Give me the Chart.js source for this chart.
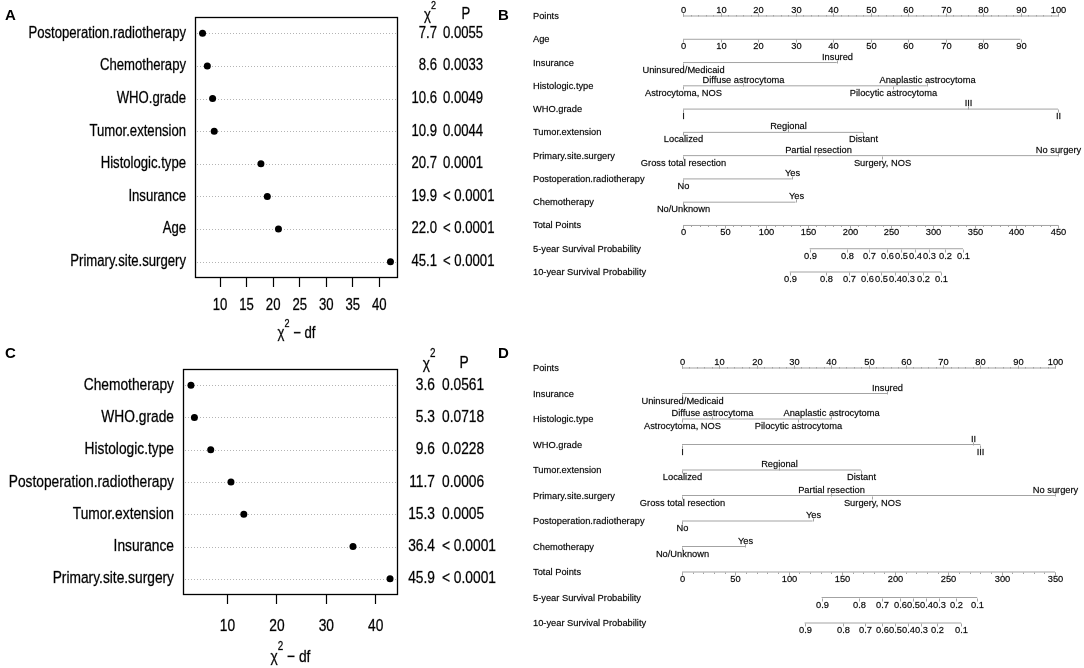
<!DOCTYPE html>
<html><head><meta charset="utf-8">
<script src="https://cdn.jsdelivr.net/npm/chart.js@4"></script>
<style>
html,body{margin:0;padding:0;background:#fff;}
#wrap{position:relative;width:1084px;height:668px;overflow:hidden;background:#fff;}
.pan{position:absolute;}
.lab{position:absolute;font:bold 15px "Liberation Sans",Arial,sans-serif;color:#000;line-height:15px;}
</style></head><body>
<div id="wrap">
  <div class="pan" style="left:0;top:0;width:520px;height:345px"><canvas id="cA"></canvas></div>
  <div class="pan" style="left:0;top:330px;width:520px;height:338px"><canvas id="cC"></canvas></div>
  <div class="pan" style="left:500px;top:0;width:584px;height:300px"><canvas id="cB"></canvas></div>
  <div class="pan" style="left:500px;top:330px;width:584px;height:338px"><canvas id="cD"></canvas></div>
  <div class="lab" style="left:5px;top:7px">A</div>
  <div class="lab" style="left:498px;top:7px">B</div>
  <div class="lab" style="left:5px;top:345px">C</div>
  <div class="lab" style="left:498px;top:345px">D</div>
</div>
<script>
// ---------------- Panel A data ----------------
const varsA = ['Postoperation.radiotherapy','Chemotherapy','WHO.grade','Tumor.extension','Histologic.type','Insurance','Age','Primary.site.surgery'];
const chiDfA = [6.7, 7.6, 8.6, 8.9, 17.7, 18.9, 21.0, 42.1];
const chiA = ['7.7','8.6','10.6','10.9','20.7','19.9','22.0','45.1'];
const pA = ['0.0055','0.0033','0.0049','0.0044','0.0001','< 0.0001','< 0.0001','< 0.0001'];
const xTicksA = [10, 15, 20, 25, 30, 35, 40];

// ---------------- Panel C data ----------------
const varsC = ['Chemotherapy','WHO.grade','Histologic.type','Postoperation.radiotherapy','Tumor.extension','Insurance','Primary.site.surgery'];
const chiDfC = [2.6, 3.3, 6.6, 10.7, 13.3, 35.4, 42.9];
const chiC = ['3.6','5.3','9.6','11.7','15.3','36.4','45.9'];
const pC = ['0.0561','0.0718','0.0228','0.0006','0.0005','< 0.0001','< 0.0001'];
const xTicksC = [10, 20, 30, 40];

// ---------------- Panel B nomogram data ----------------
const ptsTicks = [0,10,20,30,40,50,60,70,80,90,100];
const ageLabB = ['0','10','20','30','40','50','60','70','80','90'];
const agePtsB = [0,10,20,30,40,50,60,70,80,90];
const insLv = ['Uninsured/Medicaid','Insured'];
const insPtsB = [0, 41];
const histLv = ['Astrocytoma, NOS','Diffuse astrocytoma','Pilocytic astrocytoma','Anaplastic astrocytoma'];
const histPtsB = [0, 16, 56, 65];
const whoLvB = ['I','III','II'];
const whoPtsB = [0, 76, 100];
const tumLv = ['Localized','Regional','Distant'];
const tumPtsB = [0, 28, 48];
const surgLv = ['Gross total resection','Partial resection','Surgery, NOS','No surgery'];
const surgPtsB = [0, 36, 53, 100];
const radLv = ['No','Yes'];
const radPtsB = [0, 29];
const chemoLv = ['No/Unknown','Yes'];
const chemoPtsB = [0, 30];
const totTicksB = [0,50,100,150,200,250,300,350,400,450];
const survLv = ['0.9','0.8','0.7','0.6','0.5','0.4','0.3','0.2','0.1'];
const surv5PtsB = [152,197,223,245,261,278,295,314,336];
const surv10PtsB = [128,172,199,221,238,254,270,288,310];

// ---------------- Panel D nomogram data ----------------
const insPtsD = [0, 55];
const histPtsD = [0, 8, 31, 40];
const whoLvD = ['I','II','III'];
const whoPtsD = [0, 78, 80];
const tumPtsD = [0, 26, 48];
const surgPtsD = [0, 40, 51, 100];
const radPtsD = [0, 35];
const chemoPtsD = [0, 17];
const totTicksD = [0,50,100,150,200,250,300,350];
const surv5PtsD = [131,166.5,188,204.5,217,229,241,257,277];
const surv10PtsD = [115,151,172,188,200,212,224,239,262];

const FS = '"Liberation Sans",Arial,sans-serif';
const SX = 0.82;   // horizontal condensing of the R dot-chart text

function ntext(ctx, txt, x, y, size, align) {
  ctx.save();
  ctx.translate(x, y); ctx.scale(SX, 1);
  ctx.font = size + 'px ' + FS; ctx.textAlign = align; ctx.textBaseline = 'middle';
  ctx.fillText(txt, 0, 0);
  ctx.strokeStyle = 'rgba(0,0,0,0.6)'; ctx.lineWidth = 0.45;
  ctx.strokeText(txt, 0, 0);
  ctx.restore();
}
function nwidth(ctx, txt, size) {
  ctx.save(); ctx.font = size + 'px ' + FS; const w = ctx.measureText(txt).width * SX; ctx.restore(); return w;
}
function chiText(ctx, x, y, size, suffix) {
  const s2 = Math.round(size * 0.7);
  const wc = nwidth(ctx, '\u03C7', size), w2 = nwidth(ctx, '2', s2);
  const ws = suffix ? nwidth(ctx, suffix, size) : 0;
  const x0 = x - (wc + w2 + ws) / 2;
  ntext(ctx, '\u03C7', x0, y, size, 'left');
  ntext(ctx, '2', x0 + wc, y - size * 0.62, s2, 'left');
  if (suffix) ntext(ctx, suffix, x0 + wc + w2, y, size, 'left');
}

function dotChart(id, vars, vals, chis, ps, ticks, range, g) {
  const fs = g.fs;
  const plug = {
    id: 'dot' + id,
    beforeDatasetsDraw(chart) {
      const ctx = chart.ctx, a = chart.chartArea, ys = chart.scales.y;
      ctx.save();
      ctx.strokeStyle = '#b4b4b4'; ctx.lineWidth = 1; ctx.setLineDash([1, 2]);
      vars.forEach((v, i) => {
        const y = Math.round(ys.getPixelForValue(i)) + 0.5;
        ctx.beginPath(); ctx.moveTo(a.left + 2, y); ctx.lineTo(a.right - 2, y); ctx.stroke();
      });
      ctx.restore();
    },
    afterDraw(chart) {
      const ctx = chart.ctx, a = chart.chartArea, ys = chart.scales.y, xs = chart.scales.x;
      ctx.save();
      ctx.strokeStyle = '#000'; ctx.lineWidth = 1.3;
      ctx.strokeRect(a.left + 0.5, a.top + 0.5, a.right - a.left - 1, a.bottom - a.top - 1);
      ctx.fillStyle = '#000';
      vars.forEach((v, i) => {
        const y = ys.getPixelForValue(i);
        ntext(ctx, v, a.left - g.yPad, y, fs, 'right');
        ntext(ctx, chis[i], g.chiRight, y, fs, 'right');
        ntext(ctx, ps[i], g.pLeft, y, fs, 'left');
      });
      ticks.forEach(t => ntext(ctx, String(t), xs.getPixelForValue(t), g.tickY, fs, 'center'));
      chiText(ctx, g.chiHeadX, g.headY, fs, '');
      ntext(ctx, 'P', g.pHeadX, g.headY - 1, fs, 'center');
      chiText(ctx, (a.left + a.right) / 2, g.titleY, fs, ' \u2212 df');
      ctx.restore();
    }
  };
  new Chart(document.getElementById(id), {
    type: 'scatter',
    data: { labels: vars, datasets: [{
      data: vars.map((v, i) => ({ x: vals[i], y: v })),
      backgroundColor: '#000', borderColor: '#000', borderWidth: 0,
      pointRadius: 3.5, pointHoverRadius: 3.5
    }]},
    options: {
      responsive: true, maintainAspectRatio: false, animation: false, events: [],
      layout: { padding: g.pad },
      plugins: { legend: { display: false }, tooltip: { enabled: false } },
      scales: {
        y: { type: 'category', labels: vars, offset: true,
             grid: { display: false }, border: { display: false },
             ticks: { display: false },
             afterFit(s) { s.width = g.yW; } },
        x: { type: 'linear', min: range[0], max: range[1],
             grid: { display: true, drawOnChartArea: false, drawTicks: true, tickLength: 9, tickColor: '#000', tickWidth: 1.2 },
             border: { display: false },
             afterBuildTicks(s) { s.ticks = ticks.map(v => ({ value: v })); },
             ticks: { display: false },
             afterFit(s) { s.height = g.xH; } }
      }
    },
    plugins: [plug]
  });
}

dotChart('cA', varsA, chiDfA, chiA, pA, xTicksA, [5.28, 43.52],
  { fs: 16, pad: { left: 0, top: 17, right: 122, bottom: 0 }, yW: 195, yPad: 9, xH: 67,
    tickY: 306, chiRight: 437, pLeft: 443, chiHeadX: 430, pHeadX: 466, headY: 16, titleY: 334 });
dotChart('cC', varsC, chiDfC, chiC, pC, xTicksC, [0.99, 44.51],
  { fs: 16.8, pad: { left: 0, top: 39, right: 122, bottom: 0 }, yW: 183, yPad: 9, xH: 73,
    tickY: 296, chiRight: 435, pLeft: 442, chiHeadX: 429, pHeadX: 464, headY: 34, titleY: 327 });

function nomo(id, rows, totMax, g) {
  const datasets = rows.map((r, i) => ({
    data: [{ x: Math.min(...r.pts), y: i }, { x: Math.max(...r.pts), y: i }],
    xAxisID: r.tot ? 'xt' : 'x',
    showLine: true, borderColor: '#a3a3a3', borderWidth: 1, pointRadius: 0, clip: false
  }));
  const plug = {
    id: 'nomo' + id,
    afterDatasetsDraw(chart) {
      const ctx = chart.ctx, ys = chart.scales.y;
      ctx.save();
      ctx.font = '9.3px ' + FS; ctx.fillStyle = '#000';
      ctx.lineWidth = 1;
      const txt = (s, x, y) => {
        ctx.fillText(s, x, y);
        ctx.save(); ctx.strokeStyle = 'rgba(0,0,0,0.55)'; ctx.lineWidth = 0.3; ctx.strokeText(s, x, y); ctx.restore();
      };
      rows.forEach((r, i) => {
        const y = Math.round(ys.getPixelForValue(i)) + 0.5;
        const xs = chart.scales[r.tot ? 'xt' : 'x'];
        ctx.strokeStyle = '#a3a3a3';
        ctx.textAlign = 'left'; ctx.textBaseline = 'middle';
        txt(r.name, g.labelX, y);
        if (r.minor) {
          const lo = Math.min(...r.pts), hi = Math.max(...r.pts);
          for (let v = lo; v <= hi + 1e-9; v += r.minor) {
            const x = Math.round(xs.getPixelForValue(v)) + 0.5;
            const d = r.side === 'above' ? -1 : 1;
            ctx.beginPath(); ctx.moveTo(x, y); ctx.lineTo(x, y + d * 1.5); ctx.stroke();
          }
        }
        r.labels.forEach((lab, j) => {
          const side = r.side || (j % 2 === 0 ? 'below' : 'above');
          const d = side === 'above' ? -1 : 1;
          const x = Math.round(xs.getPixelForValue(r.pts[j])) + 0.5;
          ctx.beginPath(); ctx.moveTo(x, y); ctx.lineTo(x, y + d * 3); ctx.stroke();
          ctx.textAlign = 'center';
          txt(lab, x, y + (d < 0 ? -6 : 7));
        });
      });
      ctx.restore();
    }
  };
  new Chart(document.getElementById(id), {
    type: 'scatter',
    data: { datasets },
    options: {
      responsive: true, maintainAspectRatio: false, animation: false, events: [],
      layout: { padding: g.pad },
      plugins: { legend: { display: false }, tooltip: { enabled: false } },
      scales: {
        x: { type: 'linear', min: 0, max: 100, display: false },
        xt: { type: 'linear', axis: 'x', min: 0, max: totMax, display: false },
        y: { type: 'linear', min: 0, max: rows.length - 1, reverse: true, display: false }
      }
    },
    plugins: [plug]
  });
}

const rowsB = [
  { name: 'Points', labels: ptsTicks.map(String), pts: ptsTicks, side: 'above', minor: 2 },
  { name: 'Age', labels: ageLabB, pts: agePtsB, side: 'below' },
  { name: 'Insurance', labels: insLv, pts: insPtsB },
  { name: 'Histologic.type', labels: histLv, pts: histPtsB },
  { name: 'WHO.grade', labels: whoLvB, pts: whoPtsB },
  { name: 'Tumor.extension', labels: tumLv, pts: tumPtsB },
  { name: 'Primary.site.surgery', labels: surgLv, pts: surgPtsB },
  { name: 'Postoperation.radiotherapy', labels: radLv, pts: radPtsB },
  { name: 'Chemotherapy', labels: chemoLv, pts: chemoPtsB },
  { name: 'Total Points', labels: totTicksB.map(String), pts: totTicksB, side: 'below', minor: 10, tot: true },
  { name: '5-year Survival Probability', labels: survLv, pts: surv5PtsB, side: 'below', tot: true },
  { name: '10-year Survival Probability', labels: survLv, pts: surv10PtsB, side: 'below', tot: true }
];
const rowsD = [
  { name: 'Points', labels: ptsTicks.map(String), pts: ptsTicks, side: 'above', minor: 2 },
  { name: 'Insurance', labels: insLv, pts: insPtsD },
  { name: 'Histologic.type', labels: histLv, pts: histPtsD },
  { name: 'WHO.grade', labels: whoLvD, pts: whoPtsD },
  { name: 'Tumor.extension', labels: tumLv, pts: tumPtsD },
  { name: 'Primary.site.surgery', labels: surgLv, pts: surgPtsD },
  { name: 'Postoperation.radiotherapy', labels: radLv, pts: radPtsD },
  { name: 'Chemotherapy', labels: chemoLv, pts: chemoPtsD },
  { name: 'Total Points', labels: totTicksD.map(String), pts: totTicksD, side: 'below', minor: 10, tot: true },
  { name: '5-year Survival Probability', labels: survLv, pts: surv5PtsD, side: 'below', tot: true },
  { name: '10-year Survival Probability', labels: survLv, pts: surv10PtsD, side: 'below', tot: true }
];
nomo('cB', rowsB, 450, { pad: { left: 183, right: 26, top: 16, bottom: 28 }, labelX: 33 });
nomo('cD', rowsD, 350, { pad: { left: 182, right: 29, top: 38, bottom: 45 }, labelX: 33 });
</script>
</body></html>
